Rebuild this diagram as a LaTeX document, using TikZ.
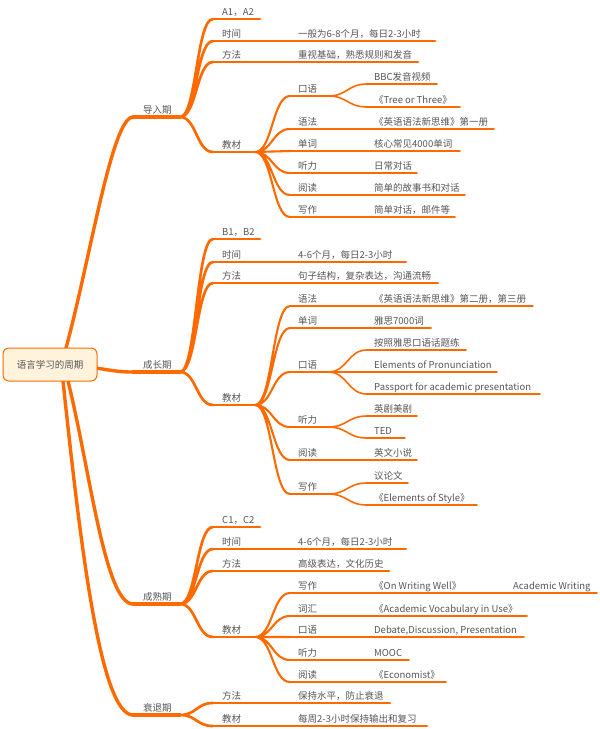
\documentclass[tikz,border=0pt]{standalone}
\usepackage{fontspec}
\setmainfont{Noto Sans CJK SC}
\usetikzlibrary{calc}
\definecolor{br}{HTML}{FF6A00}
\definecolor{tx}{HTML}{555555}
\definecolor{rootfill}{HTML}{FFF3DC}
\newcommand\tp[7]{%
  \coordinate (#2-s) at (#3,#5);
  \coordinate (#2-e) at (#4,#5);
  \draw[#1] (#2-s) -- (#2-e);
  \node[lbl] (#2) at (#6,{#5-4}) {#7};}
\begin{document}
\begin{tikzpicture}[x=1pt,y=-1pt,line cap=round,
  u1/.style={draw=br,line width=3.4pt},
  u2/.style={draw=br,line width=2.7pt},
  u3/.style={draw=br,line width=2.1pt},
  u4/.style={draw=br,line width=1.6pt},
  lbl/.style={anchor=base west,inner sep=0pt,text=tx,font=\fontsize{9.5}{11}\selectfont},
  brc/.style={to path={.. controls ($(\tikztostart)!0.5!(\tikztotarget|-\tikztostart)$) and ($(\tikztotarget)!0.5!(\tikztostart|-\tikztotarget)$) .. (\tikztotarget)}},
  rootbox/.style={draw=br,line width=1pt,fill=rootfill,rounded corners=6pt,minimum width=94pt,minimum height=33pt,inner sep=0pt,text=tx,font=\fontsize{9.5}{11}\selectfont}]
\useasboundingbox (0,0) rectangle (600,729);

% root
\coordinate (rt) at (66,348);
\coordinate (rb1) at (68,381);
\coordinate (rb2) at (63,381);
\coordinate (rr) at (96,368);

% ---------- 导入期 ----------
\tp{u1}{A}{133}{180}{117}{143}{导入期}
\tp{u2}{Alv}{213}{260}{19}{222}{A1，A2}
\tp{u2}{At}{213}{255}{41}{222}{时间}
\tp{u3}{At1}{255}{435}{41}{298}{一般为6-8个月，每日2-3小时}
\tp{u2}{Am}{213}{255}{62}{222}{方法}
\tp{u3}{Am1}{255}{418}{62}{298}{重视基础，熟悉规则和发音}
\tp{u2}{Aj}{213}{255}{152}{222}{教材}
\tp{u3}{Ak}{290}{328}{96}{298}{口语}
\tp{u4}{Ak1}{367}{437}{84}{374}{BBC发音视频}
\tp{u4}{Ak2}{367}{460}{107}{374}{《Tree or Three》}
\tp{u3}{Ag}{290}{328}{129}{298}{语法}
\tp{u4}{Ag1}{328}{494}{129}{374}{《英语语法新思维》第一册}
\tp{u3}{Ac}{290}{328}{151}{298}{单词}
\tp{u4}{Ac1}{328}{460}{151}{374}{核心常见4000单词}
\tp{u3}{Al}{290}{328}{173}{298}{听力}
\tp{u4}{Al1}{328}{417}{173}{374}{日常对话}
\tp{u3}{Ar}{290}{328}{195}{298}{阅读}
\tp{u4}{Ar1}{328}{465}{195}{374}{简单的故事书和对话}
\tp{u3}{Aw}{290}{328}{217}{298}{写作}
\tp{u4}{Aw1}{328}{455}{217}{374}{简单对话，邮件等}
\draw[u2] (A-e) to[brc] (Alv-s) (A-e) to[brc] (At-s) (A-e) to[brc] (Am-s) (A-e) to[brc] (Aj-s);
\draw[u3] (Aj-e) to[brc] (Ak-s) (Aj-e) to[brc] (Ag-s) (Aj-e) to[brc] (Ac-s)
  (Aj-e) to[brc] (Al-s) (Aj-e) to[brc] (Ar-s) (Aj-e) to[brc] (Aw-s);
\draw[u4] (Ak-e) to[brc] (Ak1-s) (Ak-e) to[brc] (Ak2-s);

% ---------- 成长期 ----------
\tp{u1}{B}{133}{180}{372}{143}{成长期}
\tp{u2}{Blv}{213}{260}{239}{222}{B1，B2}
\tp{u2}{Bt}{213}{255}{262}{222}{时间}
\tp{u3}{Bt1}{255}{406}{262}{298}{4-6个月，每日2-3小时}
\tp{u2}{Bm}{213}{255}{283}{222}{方法}
\tp{u3}{Bm1}{255}{438}{283}{298}{句子结构，复杂表达，沟通流畅}
\tp{u2}{Bj}{213}{255}{405}{222}{教材}
\tp{u3}{Bg}{290}{328}{306}{298}{语法}
\tp{u4}{Bg1}{328}{533}{306}{374}{《英语语法新思维》第二册，第三册}
\tp{u3}{Bc}{290}{328}{328}{298}{单词}
\tp{u4}{Bc1}{328}{431}{328}{374}{雅思7000词}
\tp{u3}{Bk}{290}{328}{372}{298}{口语}
\tp{u4}{Bk1}{367}{466}{350}{374}{按照雅思口语话题练}
\tp{u4}{Bk2}{367}{497}{372}{374}{Elements of Pronunciation}
\tp{u4}{Bk3}{367}{540}{394}{374}{Passport for academic presentation}
\tp{u3}{Bl}{290}{328}{427}{298}{听力}
\tp{u4}{Bl1}{367}{417}{416}{374}{英剧美剧}
\tp{u4}{Bl2}{367}{405}{438}{374}{TED}
\tp{u3}{Br}{290}{328}{460}{298}{阅读}
\tp{u4}{Br1}{328}{417}{460}{374}{英文小说}
\tp{u3}{Bw}{290}{328}{494}{298}{写作}
\tp{u4}{Bw1}{367}{408}{483}{374}{议论文}
\tp{u4}{Bw2}{367}{477}{505}{374}{《Elements of Style》}
\draw[u2] (B-e) to[brc] (Blv-s) (B-e) to[brc] (Bt-s) (B-e) to[brc] (Bm-s) (B-e) to[brc] (Bj-s);
\draw[u3] (Bj-e) to[brc] (Bg-s) (Bj-e) to[brc] (Bc-s) (Bj-e) to[brc] (Bk-s)
  (Bj-e) to[brc] (Bl-s) (Bj-e) to[brc] (Br-s) (Bj-e) to[brc] (Bw-s);
\draw[u4] (Bk-e) to[brc] (Bk1-s) (Bk-e) -- (Bk2-s) (Bk-e) to[brc] (Bk3-s)
  (Bl-e) to[brc] (Bl1-s) (Bl-e) to[brc] (Bl2-s)
  (Bw-e) to[brc] (Bw1-s) (Bw-e) to[brc] (Bw2-s);

% ---------- 成熟期 ----------
\tp{u1}{C}{133}{180}{604}{143}{成熟期}
\tp{u2}{Clv}{213}{260}{527}{222}{C1，C2}
\tp{u2}{Ct}{213}{255}{549}{222}{时间}
\tp{u3}{Ct1}{255}{406}{549}{298}{4-6个月，每日2-3小时}
\tp{u2}{Cm}{213}{255}{571}{222}{方法}
\tp{u3}{Cm1}{255}{389}{571}{298}{高级表达，文化历史}
\tp{u2}{Cj}{213}{255}{637}{222}{教材}
\tp{u3}{Cw}{290}{328}{593}{298}{写作}
\tp{u4}{Cw1}{328}{467}{593}{374}{《On Writing Well》}
\tp{u4}{Cw2}{467}{597}{593}{513}{Academic Writing}
\tp{u3}{Cv}{290}{328}{616}{298}{词汇}
\tp{u4}{Cv1}{328}{527}{616}{374}{《Academic Vocabulary in Use》}
\tp{u3}{Ck}{290}{328}{637}{298}{口语}
\tp{u4}{Ck1}{328}{524}{637}{374}{Debate,Discussion, Presentation}
\tp{u3}{Cl}{290}{328}{660}{298}{听力}
\tp{u4}{Cl1}{328}{409}{660}{374}{MOOC}
\tp{u3}{Cr}{290}{328}{682}{298}{阅读}
\tp{u4}{Cr1}{328}{446}{682}{374}{《Economist》}
\draw[u2] (C-e) to[brc] (Clv-s) (C-e) to[brc] (Ct-s) (C-e) to[brc] (Cm-s) (C-e) to[brc] (Cj-s);
\draw[u3] (Cj-e) to[brc] (Cw-s) (Cj-e) to[brc] (Cv-s) (Cj-e) to[brc] (Ck-s)
  (Cj-e) to[brc] (Cl-s) (Cj-e) to[brc] (Cr-s);

% ---------- 衰退期 ----------
\tp{u1}{D}{133}{180}{715}{143}{衰退期}
\tp{u2}{Dm}{213}{255}{703}{222}{方法}
\tp{u3}{Dm1}{255}{390}{703}{298}{保持水平，防止衰退}
\tp{u2}{Dj}{213}{255}{726}{222}{教材}
\tp{u3}{Dj1}{255}{427}{726}{298}{每周2-3小时保持输出和复习}
\draw[u2] (D-e) to[brc] (Dm-s) (D-e) to[brc] (Dj-s);

% root branches
\draw[u1] (rt) .. controls (90,260) and (112,117) .. (A-s);
\draw[u1] (rr) .. controls (115,371) and (120,372) .. (B-s);
\draw[u1] (rb1) .. controls (90,470) and (105,604) .. (C-s);
\draw[u1] (rb2) .. controls (80,540) and (100,715) .. (D-s);
\node[rootbox] (root) at (50,364.5) {语言学习的周期};
\end{tikzpicture}
\end{document}
